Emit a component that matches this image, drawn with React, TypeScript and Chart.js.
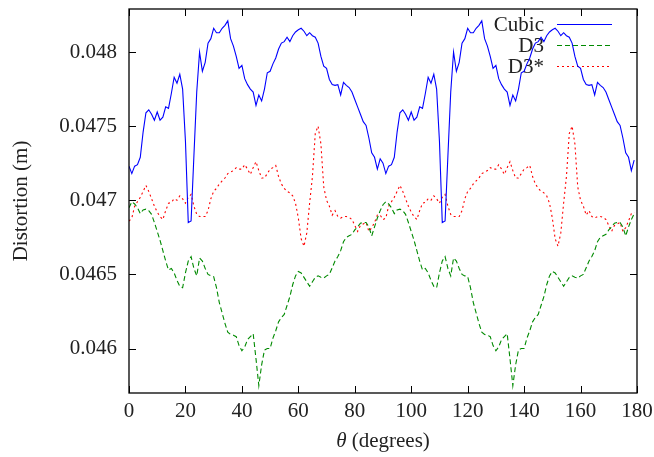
import React, { useEffect, useRef } from 'react';
import { Chart, registerables } from 'chart.js';

Chart.register(...registerables);

// ---- data ----
const X_MIN = 0;
const X_MAX = 180;
const X_STEP = 20;
const Y_MIN = 0.0457;
const Y_MAX = 0.04829;
const Y_TICKS = [0.046, 0.0465, 0.047, 0.0475, 0.048];
const Y_TICK_LABELS = ['0.046', '0.0465', '0.047', '0.0475', '0.048'];
const SERIES_NAMES = ['Cubic', 'D3', 'D3*'];
const X_TITLE_SYMBOL = 'θ';
const X_TITLE_REST = ' (degrees)';
const Y_TITLE = 'Distortion (m)';

// theta = 0 .. 90 (one value per degree)
const CUBIC_A = [
  0.04723, 0.04718, 0.04723, 0.04724, 0.04729, 0.04746, 0.04759, 0.04761, 0.04758, 0.04754,
  0.047595, 0.04754, 0.04756, 0.04763, 0.04762, 0.04772, 0.04783, 0.04779, 0.04785, 0.04775,
  0.0474, 0.04685, 0.04686, 0.0473, 0.04773, 0.048, 0.04787, 0.04793, 0.04806, 0.04809,
  0.04816, 0.04813, 0.04813, 0.04816, 0.04818, 0.04821, 0.04809, 0.04804, 0.04797, 0.04789,
  0.04791, 0.04782, 0.04778, 0.04775, 0.04773, 0.04764, 0.04771, 0.04767, 0.04775, 0.04786,
  0.04787, 0.04792, 0.04796, 0.04802, 0.04806, 0.04807, 0.0481, 0.04807, 0.04811, 0.048135,
  0.04815, 0.04816, 0.04814, 0.04811, 0.04813, 0.04811, 0.0481, 0.04806, 0.04797, 0.047905,
  0.04789, 0.047815, 0.04778, 0.047775, 0.04778, 0.04771, 0.047795, 0.047775, 0.04776, 0.04773,
  0.04768, 0.04763, 0.04758, 0.04753, 0.047505, 0.04742, 0.04732, 0.04729, 0.04721, 0.04728,
  0.04725,
];
// theta = 91 .. 180
const CUBIC_B = [
  0.04718, 0.04723, 0.04724, 0.04729, 0.04746, 0.04759, 0.04761, 0.04758, 0.04754,
  0.047595, 0.04754, 0.04756, 0.04763, 0.04762, 0.04772, 0.04783, 0.04779, 0.04785, 0.04775,
  0.0474, 0.04685, 0.04686, 0.0473, 0.04773, 0.048, 0.04787, 0.04793, 0.04806, 0.04809,
  0.04816, 0.04813, 0.04813, 0.04816, 0.04818, 0.04821, 0.04809, 0.04804, 0.04797, 0.04789,
  0.04791, 0.04782, 0.04778, 0.04775, 0.04773, 0.04764, 0.04771, 0.04767, 0.04775, 0.04786,
  0.04787, 0.04792, 0.04796, 0.04802, 0.04806, 0.04807, 0.0481, 0.04807, 0.04811, 0.048135,
  0.04815, 0.04816, 0.04814, 0.04811, 0.04813, 0.04811, 0.0481, 0.04806, 0.04797, 0.047905,
  0.04789, 0.047815, 0.04778, 0.047775, 0.04778, 0.04771, 0.047795, 0.047775, 0.04776, 0.04773,
  0.04768, 0.04763, 0.04758, 0.04753, 0.047505, 0.04742, 0.04732, 0.04729, 0.0472, 0.04727,
];

const D3_A = [
  0.04695, 0.04699, 0.046975, 0.04695, 0.04691, 0.046935, 0.04694, 0.04693, 0.046905, 0.04685,
  0.04679, 0.04673, 0.04666, 0.04659, 0.04653, 0.04654, 0.04651, 0.04646, 0.04642, 0.04641,
  0.04651, 0.04659, 0.04662, 0.04654, 0.04649, 0.04661, 0.04659, 0.04654, 0.0465, 0.04649,
  0.046485, 0.04641, 0.04631, 0.04624, 0.04617, 0.04611, 0.046095, 0.04609, 0.04608, 0.04602,
  0.045985, 0.04601, 0.04606, 0.04608, 0.0461, 0.04593, 0.04575, 0.04589, 0.04599, 0.046,
  0.046, 0.04607, 0.04612, 0.04618, 0.04621, 0.04623, 0.04629, 0.04635, 0.04643, 0.04649,
  0.04652, 0.04651, 0.04648, 0.04645, 0.04642, 0.04645, 0.04648, 0.04649, 0.04648, 0.046475,
  0.04649, 0.0465, 0.046545, 0.04659, 0.04662, 0.04666, 0.04672, 0.04675, 0.04676, 0.04677,
  0.0468, 0.04682, 0.046845, 0.04685, 0.04685, 0.04682, 0.04676, 0.04682, 0.04688, 0.04693,
  0.04697,
];
const D3_B = [
  0.04699, 0.046975, 0.04695, 0.04691, 0.046935, 0.04694, 0.04693, 0.046905, 0.04685,
  0.04679, 0.04673, 0.04666, 0.04659, 0.04653, 0.04654, 0.04651, 0.04646, 0.04642, 0.04641,
  0.04651, 0.04659, 0.04662, 0.04654, 0.04649, 0.04661, 0.04659, 0.04654, 0.0465, 0.04649,
  0.046485, 0.04641, 0.04631, 0.04624, 0.04617, 0.04611, 0.046095, 0.04609, 0.04608, 0.04602,
  0.045985, 0.04601, 0.04606, 0.04608, 0.0461, 0.04593, 0.04575, 0.04589, 0.04599, 0.046,
  0.046, 0.04607, 0.04612, 0.04618, 0.04621, 0.04623, 0.04629, 0.04635, 0.04643, 0.04649,
  0.04652, 0.04651, 0.04648, 0.04645, 0.04642, 0.04645, 0.04648, 0.04649, 0.04648, 0.046475,
  0.04649, 0.0465, 0.046545, 0.04659, 0.04662, 0.04666, 0.04672, 0.04675, 0.04676, 0.04677,
  0.0468, 0.04682, 0.046845, 0.04685, 0.04685, 0.04682, 0.04676, 0.04682, 0.04687, 0.04691,
];

const D3STAR_A = [
  0.04686, 0.04688, 0.04696, 0.04699, 0.04702, 0.04706, 0.0471, 0.04706, 0.04701, 0.04696,
  0.04692, 0.04689, 0.04687, 0.04693, 0.04698, 0.046985, 0.04701, 0.047, 0.04703, 0.04701,
  0.04698, 0.04702, 0.04704, 0.04696, 0.046905, 0.04689, 0.04689, 0.04689, 0.04693, 0.04701,
  0.04706, 0.04708, 0.04711, 0.04713, 0.04715, 0.04718, 0.04719, 0.0472, 0.04722, 0.04721,
  0.04721, 0.04724, 0.04721, 0.047175, 0.04722, 0.04726, 0.0472, 0.04715, 0.04715, 0.04718,
  0.04721, 0.04722, 0.047235, 0.04716, 0.04711, 0.04708, 0.04706, 0.04705, 0.04703, 0.04698,
  0.04688, 0.04674, 0.04669, 0.04678, 0.04698, 0.04716, 0.04745, 0.0475, 0.04738, 0.04709,
  0.047, 0.04696, 0.0469, 0.04693, 0.04689, 0.04688, 0.04689, 0.04689, 0.046885, 0.04687,
  0.04683, 0.04679, 0.04683, 0.04684, 0.04685, 0.04679, 0.046815, 0.04685, 0.0469, 0.0469,
  0.04687,
];
const D3STAR_B = [
  0.04688, 0.04696, 0.04699, 0.04702, 0.04706, 0.0471, 0.04706, 0.04701, 0.04696,
  0.04692, 0.04689, 0.04687, 0.04693, 0.04698, 0.046985, 0.04701, 0.047, 0.04703, 0.04701,
  0.04698, 0.04702, 0.04704, 0.04696, 0.046905, 0.04689, 0.04689, 0.04689, 0.04693, 0.04701,
  0.04706, 0.04708, 0.04711, 0.04713, 0.04715, 0.04718, 0.04719, 0.0472, 0.04722, 0.04721,
  0.04721, 0.04724, 0.04721, 0.047175, 0.04722, 0.04726, 0.0472, 0.04715, 0.04715, 0.04718,
  0.04721, 0.04722, 0.047235, 0.04716, 0.04711, 0.04708, 0.04706, 0.04705, 0.04703, 0.04698,
  0.04688, 0.04674, 0.04669, 0.04678, 0.04698, 0.04716, 0.04745, 0.0475, 0.04738, 0.04709,
  0.047, 0.04696, 0.0469, 0.04693, 0.04689, 0.04688, 0.04689, 0.04689, 0.046885, 0.04687,
  0.04683, 0.04679, 0.04683, 0.04684, 0.04685, 0.04679, 0.046815, 0.04686, 0.04691, 0.04692,
];

const CUBIC = [...CUBIC_A, ...CUBIC_B];
const D3 = [...D3_A, ...D3_B];
const D3STAR = [...D3STAR_A, ...D3STAR_B];

const FONT = "'Liberation Serif', 'Times New Roman', serif";
const COLORS = ['#0000ff', '#008a00', '#ff0000'];
const DASHES: number[][] = [[], [5, 3], [2, 3]];

const framePlugin = {
  id: 'gnuFrame',
  beforeDatasetsDraw(chart: any) {
    const { ctx } = chart;
    ctx.save();
    ctx.font = `21px ${FONT}`;
    ctx.textAlign = 'right';
    ctx.textBaseline = 'middle';
    const rows = [24, 45, 66];
    SERIES_NAMES.forEach((name, i) => {
      ctx.fillStyle = '#222';
      ctx.fillText(name, 544, rows[i] + 1);
      ctx.strokeStyle = COLORS[i];
      ctx.lineWidth = 1;
      ctx.setLineDash(DASHES[i]);
      ctx.beginPath();
      ctx.moveTo(557, rows[i] + 0.5);
      ctx.lineTo(612, rows[i] + 0.5);
      ctx.stroke();
    });
    ctx.restore();
  },
  afterDatasetsDraw(chart: any) {
    const { ctx, chartArea, scales } = chart;
    const { left, right, top, bottom } = chartArea;
    ctx.save();
    ctx.strokeStyle = '#000';
    ctx.lineWidth = 1.3;
    ctx.setLineDash([]);
    ctx.strokeRect(left, top, right - left, bottom - top);
    ctx.lineWidth = 1;
    const tl = 7;
    scales.x.ticks.forEach((t: any) => {
      const px = Math.round(scales.x.getPixelForValue(t.value)) + 0.5;
      ctx.beginPath();
      ctx.moveTo(px, bottom);
      ctx.lineTo(px, bottom - tl);
      ctx.moveTo(px, top);
      ctx.lineTo(px, top + tl);
      ctx.stroke();
    });
    scales.y.ticks.forEach((t: any) => {
      const py = Math.round(scales.y.getPixelForValue(t.value)) + 0.5;
      ctx.beginPath();
      ctx.moveTo(left, py);
      ctx.lineTo(left + tl, py);
      ctx.moveTo(right, py);
      ctx.lineTo(right - tl, py);
      ctx.stroke();
    });
    // x title with italic theta
    const cx = (left + right) / 2;
    const ty = 441;
    ctx.fillStyle = '#222';
    ctx.textBaseline = 'middle';
    ctx.textAlign = 'left';
    ctx.font = `italic 21px ${FONT}`;
    const w1 = ctx.measureText(X_TITLE_SYMBOL).width;
    ctx.font = `21px ${FONT}`;
    const w2 = ctx.measureText(X_TITLE_REST).width;
    const sx = cx - (w1 + w2) / 2;
    ctx.font = `italic 21px ${FONT}`;
    ctx.fillText(X_TITLE_SYMBOL, sx, ty);
    ctx.font = `21px ${FONT}`;
    ctx.fillText(X_TITLE_REST, sx + w1, ty);
    ctx.restore();
  },
};

export default function App() {
  const ref = useRef<HTMLCanvasElement | null>(null);
  useEffect(() => {
    if (!ref.current) return;
    const mk = (arr: number[]) => arr.map((v, i) => ({ x: X_MIN + i, y: v }));
    const chart = new Chart(ref.current, {
      type: 'line',
      data: {
        datasets: [
          { label: SERIES_NAMES[0], data: mk(CUBIC), borderColor: COLORS[0], borderWidth: 1.1, borderDash: DASHES[0], pointRadius: 0, tension: 0, fill: false },
          { label: SERIES_NAMES[1], data: mk(D3), borderColor: COLORS[1], borderWidth: 1.1, borderDash: DASHES[1], pointRadius: 0, tension: 0, fill: false },
          { label: SERIES_NAMES[2], data: mk(D3STAR), borderColor: COLORS[2], borderWidth: 1.1, borderDash: DASHES[2], pointRadius: 0, tension: 0, fill: false },
        ],
      },
      options: {
        animation: false,
        responsive: false,
        events: [],
        layout: { padding: { left: 0, top: 9, right: 17, bottom: 0 } },
        plugins: { legend: { display: false }, tooltip: { enabled: false } },
        scales: {
          x: {
            type: 'linear',
            min: X_MIN,
            max: X_MAX,
            ticks: { stepSize: X_STEP, color: '#222', font: { family: FONT, size: 21 }, padding: 6, maxRotation: 0 },
            grid: { display: false, drawTicks: false },
            border: { display: false },
            afterFit: (s: any) => { s.height = 64; s.paddingLeft = 0; s.paddingRight = 0; s.paddingTop = 0; s.paddingBottom = 0; },
          },
          y: {
            type: 'linear',
            min: Y_MIN,
            max: Y_MAX,
            afterBuildTicks: (s: any) => { s.ticks = Y_TICKS.map((v) => ({ value: v })); },
            ticks: {
              color: '#222',
              font: { family: FONT, size: 21 },
              padding: 12,
              callback: (v: any) => {
                const i = Y_TICKS.findIndex((t) => Math.abs(t - v) < 1e-9);
                return i >= 0 ? Y_TICK_LABELS[i] : '';
              },
            },
            grid: { display: false, drawTicks: false },
            border: { display: false },
            title: { display: true, text: Y_TITLE, color: '#222', font: { family: FONT, size: 21 }, padding: { top: 9, bottom: 0 } },
            afterFit: (s: any) => { s.width = 129; s.paddingLeft = 0; s.paddingRight = 0; s.paddingTop = 0; s.paddingBottom = 0; },
          },
        },
      },
      plugins: [framePlugin],
    });
    return () => chart.destroy();
  }, []);
  return (
    <div style={{ position: 'absolute', left: 0, top: 0, width: 654, height: 457, background: '#fff' }}>
      <canvas ref={ref} width={654} height={457} style={{ display: 'block' }} />
    </div>
  );
}
